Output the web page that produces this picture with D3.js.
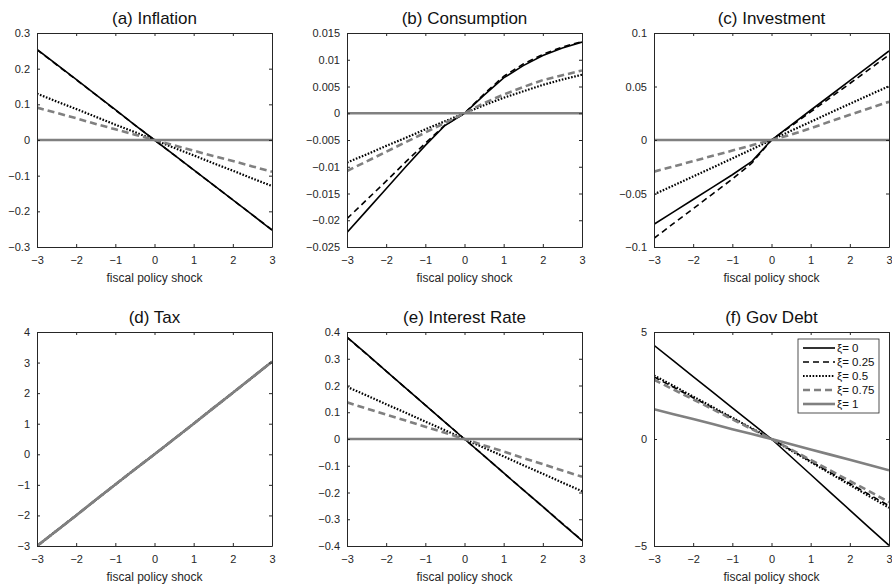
<!DOCTYPE html>
<html>
<head>
<meta charset="utf-8">
<script src="https://cdn.jsdelivr.net/npm/d3@7"></script>
<style>
  body { margin: 0; background: #fff; }
  svg { display: block; font-family: "Liberation Sans", Arial, sans-serif; }
  .tick text { fill: #262626; }
</style>
</head>
<body>
<div id="chart"></div>
<script>
// fiscal policy shock grid
const shock = [-3, -2.5, -2, -1.5, -1, -0.5, 0, 0.5, 1, 1.5, 2, 2.5, 3];
const xiLabels = ['ξ= 0', 'ξ= 0.25', 'ξ= 0.5', 'ξ= 0.75', 'ξ= 1'];
const xTicks = [-3, -2, -1, 0, 1, 2, 3];

// rows: xi = 0, 0.25, 0.5, 0.75, 1
const inflation = [
  [0.254, 0.212, 0.170, 0.127, 0.085, 0.042, 0, -0.042, -0.084, -0.126, -0.168, -0.210, -0.253],
  [0.253, 0.211, 0.169, 0.127, 0.084, 0.042, 0, -0.042, -0.084, -0.126, -0.168, -0.210, -0.252],
  [0.130, 0.108, 0.087, 0.065, 0.043, 0.022, 0, -0.022, -0.043, -0.065, -0.086, -0.108, -0.129],
  [0.091, 0.076, 0.061, 0.045, 0.030, 0.015, 0, -0.015, -0.030, -0.045, -0.059, -0.074, -0.089],
  [0, 0, 0, 0, 0, 0, 0, 0, 0, 0, 0, 0, 0]
];
const consumption = [
  [-0.0223, -0.0182, -0.0141, -0.0100, -0.0060, -0.0023, 0, 0.0034, 0.0066, 0.0089, 0.0108, 0.0122, 0.0133],
  [-0.0197, -0.0162, -0.0127, -0.0091, -0.0056, -0.0022, 0, 0.0036, 0.0069, 0.0092, 0.0110, 0.0124, 0.0134],
  [-0.0092, -0.0077, -0.0061, -0.0046, -0.0030, -0.0015, 0, 0.0015, 0.0029, 0.0041, 0.0053, 0.0063, 0.0072],
  [-0.0108, -0.0090, -0.0072, -0.0054, -0.0036, -0.0018, 0, 0.0019, 0.0035, 0.0049, 0.0062, 0.0071, 0.0080],
  [0, 0, 0, 0, 0, 0, 0, 0, 0, 0, 0, 0, 0]
];
const investment = [
  [-0.0788, -0.0672, -0.0556, -0.0440, -0.0325, -0.0200, 0, 0.0140, 0.0278, 0.0416, 0.0555, 0.0693, 0.0832],
  [-0.0919, -0.0780, -0.0642, -0.0503, -0.0365, -0.0215, 0, 0.0130, 0.0262, 0.0395, 0.0528, 0.0662, 0.0795],
  [-0.0508, -0.0425, -0.0341, -0.0257, -0.0172, -0.0087, 0, 0.0086, 0.0170, 0.0255, 0.0338, 0.0421, 0.0503],
  [-0.0296, -0.0247, -0.0197, -0.0148, -0.0099, -0.0049, 0, 0.0050, 0.0110, 0.0173, 0.0235, 0.0296, 0.0357],
  [0, 0, 0, 0, 0, 0, 0, 0, 0, 0, 0, 0, 0]
];
const tax = [
  [-3, -2.5, -2, -1.49, -0.99, -0.49, 0, 0.50, 1.00, 1.51, 2.01, 2.52, 3.03],
  [-3, -2.5, -2, -1.49, -0.99, -0.49, 0, 0.50, 1.00, 1.51, 2.01, 2.52, 3.03],
  [-3, -2.5, -2, -1.49, -0.99, -0.49, 0, 0.50, 1.00, 1.51, 2.01, 2.52, 3.03],
  [-3, -2.5, -2, -1.49, -0.99, -0.49, 0, 0.50, 1.00, 1.51, 2.01, 2.52, 3.03],
  [-3, -2.5, -2, -1.49, -0.99, -0.49, 0, 0.50, 1.00, 1.51, 2.01, 2.52, 3.03]
];
const interestRate = [
  [0.381, 0.318, 0.254, 0.190, 0.127, 0.063, 0, -0.063, -0.127, -0.190, -0.253, -0.317, -0.380],
  [0.380, 0.317, 0.254, 0.190, 0.127, 0.063, 0, -0.063, -0.127, -0.190, -0.253, -0.316, -0.379],
  [0.195, 0.163, 0.130, 0.098, 0.065, 0.033, 0, -0.033, -0.065, -0.098, -0.130, -0.163, -0.195],
  [0.137, 0.114, 0.091, 0.069, 0.046, 0.023, 0, -0.024, -0.047, -0.071, -0.094, -0.118, -0.141],
  [0, 0, 0, 0, 0, 0, 0, 0, 0, 0, 0, 0, 0]
];
const govDebt = [
  [4.38, 3.65, 2.92, 2.19, 1.46, 0.73, 0, -0.83, -1.66, -2.49, -3.32, -4.15, -4.97],
  [2.90, 2.42, 1.93, 1.45, 0.97, 0.48, 0, -0.52, -1.04, -1.56, -2.08, -2.60, -3.12],
  [2.97, 2.48, 1.98, 1.49, 0.99, 0.50, 0, -0.54, -1.07, -1.61, -2.14, -2.68, -3.21],
  [2.77, 2.31, 1.85, 1.39, 0.92, 0.46, 0, -0.49, -0.98, -1.47, -1.96, -2.45, -2.95],
  [1.39, 1.16, 0.93, 0.70, 0.46, 0.23, 0, -0.24, -0.49, -0.73, -0.97, -1.22, -1.46]
];

const panels = [
  { title: '(a) Inflation', data: inflation, domain: [-0.3, 0.3], ticks: [-0.3, -0.2, -0.1, 0, 0.1, 0.2, 0.3] },
  { title: '(b) Consumption', data: consumption, domain: [-0.025, 0.015], ticks: [-0.025, -0.02, -0.015, -0.01, -0.005, 0, 0.005, 0.01, 0.015] },
  { title: '(c) Investment', data: investment, domain: [-0.1, 0.1], ticks: [-0.1, -0.05, 0, 0.05, 0.1] },
  { title: '(d) Tax', data: tax, domain: [-3, 4], ticks: [-3, -2, -1, 0, 1, 2, 3, 4] },
  { title: '(e) Interest Rate', data: interestRate, domain: [-0.4, 0.4], ticks: [-0.4, -0.3, -0.2, -0.1, 0, 0.1, 0.2, 0.3, 0.4] },
  { title: '(f) Gov Debt', data: govDebt, domain: [-5, 5], ticks: [-5, 0, 5] }
];

// line styles per xi
const styles = [
  { color: '#000', width: 1.6, dash: null },
  { color: '#000', width: 1.6, dash: '6,4' },
  { color: '#000', width: 2.2, dash: '1.6,1.6' },
  { color: '#808080', width: 2.6, dash: '7,4' },
  { color: '#808080', width: 2.6, dash: null }
];

const width = 892, height = 585;
const colLeft = [37, 347, 654];
const rowTop = [33, 332];
const plotW = 235, plotH = 214;

const svg = d3.select('#chart').append('svg')
  .attr('width', width)
  .attr('height', height);

const fmt = d => (d < 0 ? '\u2212' : '') + String(Math.abs(d));

panels.forEach((p, i) => {
  const g = svg.append('g')
    .attr('transform', 'translate(' + colLeft[i % 3] + ',' + rowTop[Math.floor(i / 3)] + ')');

  const x = d3.scaleLinear().domain([-3, 3]).range([0, plotW]);
  const y = d3.scaleLinear().domain(p.domain).range([plotH, 0]);

  const clipId = 'clip' + i;
  g.append('clipPath').attr('id', clipId)
    .append('rect').attr('width', plotW).attr('height', plotH);

  const line = d3.line()
    .x((d, j) => x(shock[j]))
    .y(d => y(d));

  g.append('g').attr('clip-path', 'url(#' + clipId + ')')
    .selectAll('path')
    .data(p.data)
    .enter().append('path')
    .attr('d', d => line(d))
    .attr('fill', 'none')
    .attr('stroke', (d, k) => styles[k].color)
    .attr('stroke-width', (d, k) => styles[k].width)
    .attr('stroke-dasharray', (d, k) => styles[k].dash);

  // axes with inward ticks, box on
  g.append('g')
    .attr('transform', 'translate(0,' + plotH + ')')
    .call(d3.axisBottom(x).tickValues(xTicks).tickFormat(fmt).tickSizeInner(-3).tickSizeOuter(0).tickPadding(9));
  g.append('g')
    .call(d3.axisTop(x).tickValues(xTicks).tickFormat('').tickSizeInner(-3).tickSizeOuter(0));
  g.append('g')
    .call(d3.axisLeft(y).tickValues(p.ticks).tickFormat(fmt).tickSizeInner(-3).tickSizeOuter(0).tickPadding(7));
  g.append('g')
    .attr('transform', 'translate(' + plotW + ',0)')
    .call(d3.axisRight(y).tickValues(p.ticks).tickFormat('').tickSizeInner(-3).tickSizeOuter(0));

  g.selectAll('.domain').attr('stroke', '#262626');
  g.selectAll('.tick line').attr('stroke', '#262626');
  g.selectAll('.tick text').attr('font-size', 11).attr('font-family', 'Liberation Sans, Arial, sans-serif');

  g.append('text')
    .attr('x', plotW / 2)
    .attr('y', -9)
    .attr('text-anchor', 'middle')
    .attr('font-size', 17)
    .attr('fill', '#111')
    .text(p.title);

  g.append('text')
    .attr('x', plotW / 2)
    .attr('y', plotH + 35)
    .attr('text-anchor', 'middle')
    .attr('font-size', 12)
    .attr('fill', '#262626')
    .text('fiscal policy shock');

  // legend in the last panel
  if (i === 5) {
    const lg = g.append('g').attr('transform', 'translate(144,7)');
    lg.append('rect')
      .attr('width', 81).attr('height', 74)
      .attr('fill', '#fff').attr('stroke', '#262626').attr('stroke-width', 0.8);
    xiLabels.forEach((lab, k) => {
      const yy = 9 + k * 14;
      lg.append('line')
        .attr('x1', 5).attr('x2', 37).attr('y1', yy).attr('y2', yy)
        .attr('stroke', styles[k].color)
        .attr('stroke-width', styles[k].width)
        .attr('stroke-dasharray', styles[k].dash);
      lg.append('text')
        .attr('x', 39).attr('y', yy + 4)
        .attr('font-size', 11.5)
        .attr('fill', '#111')
        .text(lab);
    });
  }
});
</script>
</body>
</html>
